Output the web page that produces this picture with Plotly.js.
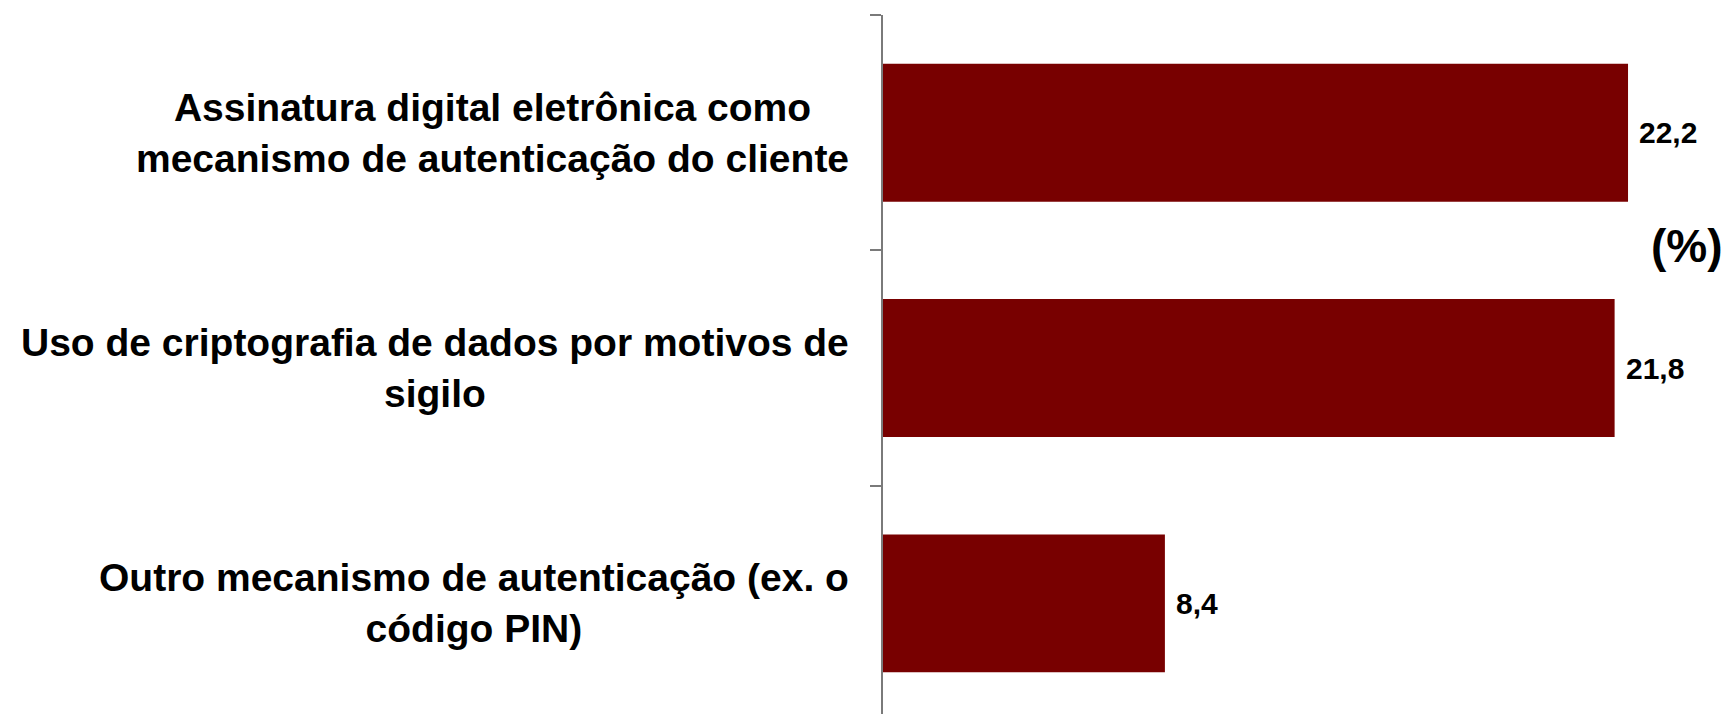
<!DOCTYPE html>
<html>
<head>
<meta charset="utf-8">
<script src="https://cdn.plot.ly/plotly-3.0.1.min.js"></script>
<style>html,body{margin:0;padding:0;background:#fff;}#chart{width:1725px;height:714px;}</style>
</head>
<body>
<div id="chart"></div>
<script>
const categories = [
  "Assinatura digital eletrônica como<br>mecanismo de autenticação do cliente",
  "Uso de criptografia de dados por motivos de<br>sigilo",
  "Outro mecanismo de autenticação (ex. o<br>código PIN)"
];
const values = [22.2, 21.8, 8.4];
const unitLabel = "(%)";

const fmt = v => v.toFixed(1).replace('.', ',');

const trace = {
  type: 'bar',
  orientation: 'h',
  x: values,
  y: categories,
  marker: {color: '#780000', line: {width: 0}},
  hoverinfo: 'none'
};

const annotations = [];
categories.forEach((c, i) => {
  annotations.push({
    xref: 'paper', yref: 'y', x: 0, y: c,
    xanchor: 'right', yanchor: 'middle', xshift: -32,
    text: '<b>' + c + '</b>', showarrow: false, align: 'center',
    font: {family: '"Liberation Sans", Arial, sans-serif', size: 39, color: '#000'}
  });
  annotations.push({
    xref: 'x', yref: 'y', x: values[i], y: c,
    xanchor: 'left', yanchor: 'middle', xshift: 9,
    text: '<b>' + fmt(values[i]) + '</b>', showarrow: false,
    font: {family: '"Liberation Sans", Arial, sans-serif', size: 30, color: '#000'}
  });
});
annotations.push({
  xref: 'paper', yref: 'paper', x: 1, y: 0.67,
  xanchor: 'right', yanchor: 'middle', xshift: 3,
  text: '<b>' + unitLabel + '</b>', showarrow: false,
  font: {family: '"Liberation Sans", Arial, sans-serif', size: 46, color: '#000'}
});

const layout = {
  width: 1725, height: 714,
  margin: {l: 883, r: 3, t: 15, b: 0},
  paper_bgcolor: '#fff', plot_bgcolor: '#fff',
  showlegend: false,
  bargap: 0.414,
  xaxis: {range: [0, 25], visible: false, showgrid: false, zeroline: false},
  yaxis: {
    type: 'category', categoryorder: 'array', categoryarray: categories,
    range: [2.47, -0.5],
    showticklabels: false, showgrid: false, zeroline: false,
    showline: true, linecolor: '#7a7a7a', linewidth: 2,
    ticks: 'outside', tickson: 'boundaries', ticklen: 11, tickcolor: '#7a7a7a', tickwidth: 2
  },
  annotations: annotations
};

Plotly.newPlot('chart', [trace], layout, {displayModeBar: false, staticPlot: true});
</script>
</body>
</html>
